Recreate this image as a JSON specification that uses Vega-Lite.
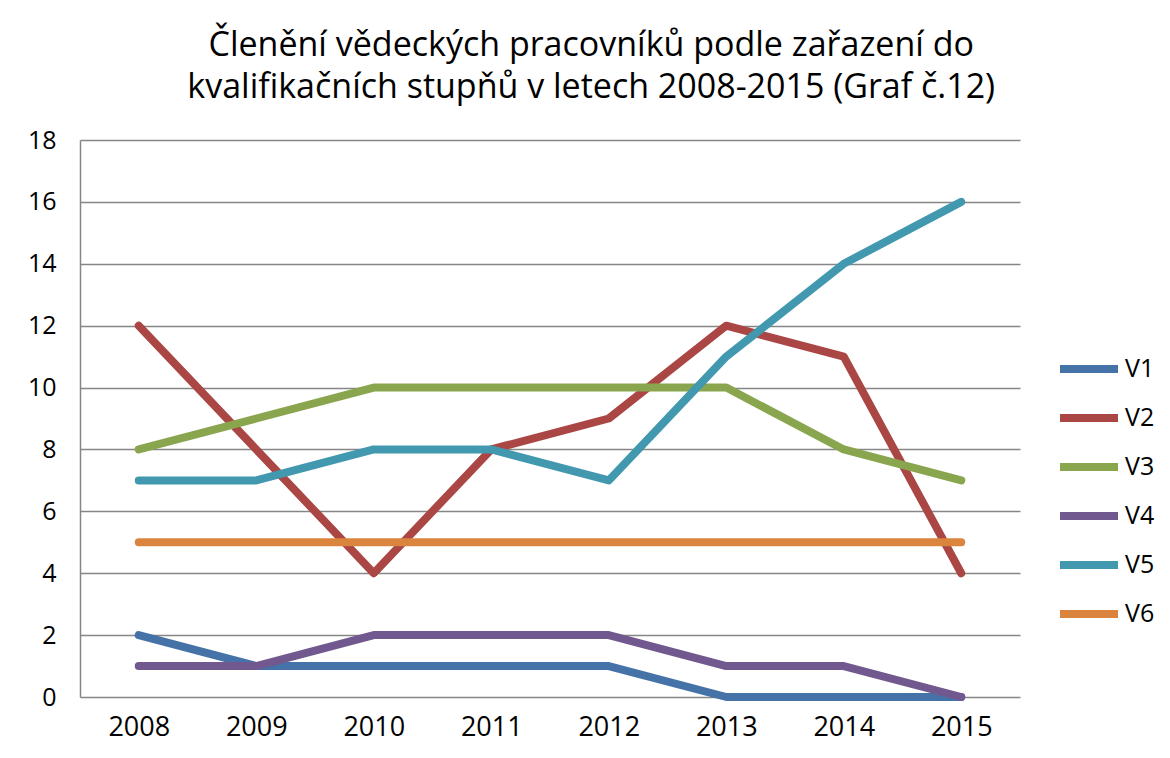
{
  "$schema": "https://vega.github.io/schema/vega-lite/v6.json",
  "width": 940,
  "height": 557,
  "autosize": "none",
  "padding": {"left": 80, "top": 140, "right": 150, "bottom": 61},
  "background": "white",
  "title": {
    "text": ["Členění vědeckých pracovníků podle zařazení do", "kvalifikačních stupňů v letech 2008-2015 (Graf č.12)"],
    "font": "Open Sans",
    "fontSize": 34,
    "fontWeight": 500,
    "color": "#000000",
    "lineHeight": 42,
    "anchor": "middle",
    "frame": "bounds",
    "offset": 23
  },
  "data": {
    "values": [
      {"rok": "2008", "s": "V1", "v": 2}, {"rok": "2009", "s": "V1", "v": 1}, {"rok": "2010", "s": "V1", "v": 1}, {"rok": "2011", "s": "V1", "v": 1},
      {"rok": "2012", "s": "V1", "v": 1}, {"rok": "2013", "s": "V1", "v": 0}, {"rok": "2014", "s": "V1", "v": 0}, {"rok": "2015", "s": "V1", "v": 0},
      {"rok": "2008", "s": "V2", "v": 12}, {"rok": "2009", "s": "V2", "v": 8}, {"rok": "2010", "s": "V2", "v": 4}, {"rok": "2011", "s": "V2", "v": 8},
      {"rok": "2012", "s": "V2", "v": 9}, {"rok": "2013", "s": "V2", "v": 12}, {"rok": "2014", "s": "V2", "v": 11}, {"rok": "2015", "s": "V2", "v": 4},
      {"rok": "2008", "s": "V3", "v": 8}, {"rok": "2009", "s": "V3", "v": 9}, {"rok": "2010", "s": "V3", "v": 10}, {"rok": "2011", "s": "V3", "v": 10},
      {"rok": "2012", "s": "V3", "v": 10}, {"rok": "2013", "s": "V3", "v": 10}, {"rok": "2014", "s": "V3", "v": 8}, {"rok": "2015", "s": "V3", "v": 7},
      {"rok": "2008", "s": "V4", "v": 1}, {"rok": "2009", "s": "V4", "v": 1}, {"rok": "2010", "s": "V4", "v": 2}, {"rok": "2011", "s": "V4", "v": 2},
      {"rok": "2012", "s": "V4", "v": 2}, {"rok": "2013", "s": "V4", "v": 1}, {"rok": "2014", "s": "V4", "v": 1}, {"rok": "2015", "s": "V4", "v": 0},
      {"rok": "2008", "s": "V5", "v": 7}, {"rok": "2009", "s": "V5", "v": 7}, {"rok": "2010", "s": "V5", "v": 8}, {"rok": "2011", "s": "V5", "v": 8},
      {"rok": "2012", "s": "V5", "v": 7}, {"rok": "2013", "s": "V5", "v": 11}, {"rok": "2014", "s": "V5", "v": 14}, {"rok": "2015", "s": "V5", "v": 16},
      {"rok": "2008", "s": "V6", "v": 5}, {"rok": "2009", "s": "V6", "v": 5}, {"rok": "2010", "s": "V6", "v": 5}, {"rok": "2011", "s": "V6", "v": 5},
      {"rok": "2012", "s": "V6", "v": 5}, {"rok": "2013", "s": "V6", "v": 5}, {"rok": "2014", "s": "V6", "v": 5}, {"rok": "2015", "s": "V6", "v": 5}
    ]
  },
  "mark": {"type": "line", "strokeWidth": 8, "strokeCap": "round", "strokeJoin": "round"},
  "encoding": {
    "x": {
      "field": "rok",
      "type": "ordinal",
      "scale": {"type": "point", "padding": 0.5},
      "axis": {
        "title": null,
        "labelAngle": 0,
        "labelFont": "Open Sans",
        "labelFontSize": 27,
        "labelColor": "#000000",
        "labelPadding": 17,
        "ticks": false,
        "domain": false,
        "grid": false
      }
    },
    "y": {
      "field": "v",
      "type": "quantitative",
      "scale": {"domain": [0, 18], "nice": false},
      "axis": {
        "title": null,
        "values": [0, 2, 4, 6, 8, 10, 12, 14, 16, 18],
        "labelFont": "Open Sans",
        "labelFontSize": 25,
        "labelColor": "#000000",
        "labelPadding": 24,
        "ticks": false,
        "domain": true,
        "domainColor": "#868686",
        "domainWidth": 1.5,
        "grid": true,
        "gridColor": "#868686",
        "gridWidth": 1.5,
        "gridOpacity": 1
      }
    },
    "color": {
      "field": "s",
      "type": "nominal",
      "scale": {
        "domain": ["V1", "V2", "V3", "V4", "V5", "V6"],
        "range": ["#4572a7", "#aa4643", "#89a54e", "#71588f", "#4198af", "#db843d"]
      },
      "legend": {
        "title": null,
        "orient": "none",
        "legendX": 976,
        "legendY": 196,
        "padding": 0,
        "symbolType": "stroke",
        "symbolSize": 3364,
        "symbolStrokeWidth": 8,
        "rowPadding": -14.5,
        "labelOffset": 3,
        "labelFont": "Open Sans",
        "labelFontSize": 25,
        "labelColor": "#000000"
      }
    }
  },
  "config": {
    "view": {"stroke": null}
  }
}
